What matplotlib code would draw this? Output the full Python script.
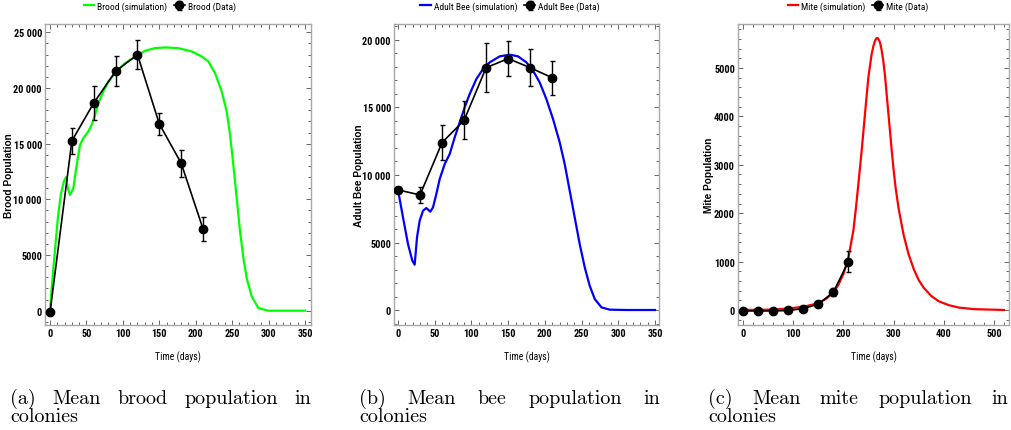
import matplotlib
matplotlib.use("Agg")
import matplotlib.pyplot as plt
from matplotlib import font_manager
from matplotlib.font_manager import FontProperties
from matplotlib.ticker import MultipleLocator, FuncFormatter

# ---------------- data ----------------
# (a) Brood
brood_sim_t = [0, 3, 7, 11, 15, 19, 22, 24.5, 27.5, 32, 36.6, 41.2, 45.8, 52.6, 57.2, 61.8,
               66.3, 73.2, 80.1, 89.2, 103, 119.9, 130.4, 144.1, 157.8, 176.1, 194.4,
               208.2, 217.3, 226.5, 235.6, 242.5, 247.1, 251.6, 256.2, 260.8, 265.4,
               269.9, 276.8, 285.9, 299.7, 350]
brood_sim_v = [0, 2600, 5600, 8500, 10500, 11600, 12000, 11000, 10400, 11000, 13100, 14900,
               15500, 16100, 16700, 17590, 18640, 19690, 20580, 21330, 22230, 22920, 23340,
               23580, 23640, 23580, 23280, 22830, 22380, 21330, 19690, 17890, 15800, 13100,
               10110, 7120, 4726, 2930, 1290, 240, 0, 0]
brood_t = [0, 30, 60, 90, 120, 150, 180, 210]
brood_v = [-150, 15250, 18650, 21500, 23000, 16770, 13250, 7350]
brood_err = [150, 1150, 1550, 1350, 1300, 950, 1200, 1100]

# (b) Adult bee
bee_sim_t = [0, 6.8, 13.6, 19.5, 22.7, 25.9, 29.5, 34.1, 38.6, 44.0, 47.7, 52.2, 56.8, 63.6,
             70.4, 77.2, 84.0, 90.8, 97.6, 106.7, 115.8, 124.9, 138.5, 152.1, 163.4, 174.8,
             183.9, 192.9, 202.0, 211.1, 220.2, 227.0, 233.8, 240.6, 247.4, 254.3, 261.0,
             267.9, 277.0, 288.3, 311.0, 350]
bee_sim_v = [8900, 6864, 4889, 3654, 3358, 5382, 6617, 7358, 7555, 7284, 7605, 8592, 9703,
             10814, 11555, 12789, 13900, 15011, 15999, 17110, 17851, 18345, 18789, 18913,
             18789, 18345, 17727, 16863, 15629, 14147, 12419, 10814, 8839, 6864, 4889, 3160,
             1802, 815, 198, 25, 0, 0]
bee_t = [0, 30, 60, 90, 120, 150, 180, 210]
bee_v = [8900, 8520, 12400, 14050, 17950, 18620, 17950, 17200]
bee_err = [200, 620, 1300, 1400, 1830, 1320, 1380, 1270]

# (c) Mite
mite_sim_t = [0, 54, 88, 121, 150, 167, 180, 190, 200, 210, 220, 225, 230, 236.4, 243, 249.7,
              256.3, 260, 263, 266, 268, 270, 273, 276, 279.5, 283, 286.2, 289.5, 292.8, 296,
              299.5, 304, 310, 320, 330, 340, 350, 360, 375, 390, 410, 430, 460, 520]
mite_sim_v = [0, 7, 28, 69, 138, 241, 365, 520, 740, 1080, 1650, 2110, 2620, 3290, 4050, 4800,
              5290, 5460, 5565, 5615, 5620, 5595, 5525, 5380, 5150, 4830, 4460, 4080, 3705,
              3330, 2950, 2530, 2100, 1550, 1150, 850, 620, 460, 290, 180, 100, 50, 18, 0]
mite_t = [0, 30, 60, 90, 120, 150, 180, 210]
mite_v = [-20, -20, -20, -10, 30, 120, 370, 1000]
mite_err = [30, 30, 30, 30, 40, 60, 80, 215]

# ---------------- fonts ----------------
entries = font_manager.fontManager.ttflist


def is_condensed(f):
    st = f.stretch
    if isinstance(st, str):
        return 'condensed' in st.lower() or 'narrow' in f.name.lower() or 'condensed' in f.name.lower()
    try:
        return int(st) < 500
    except Exception:
        return False


def wnum(f):
    w = f.weight
    if isinstance(w, str):
        return {'bold': 700, 'normal': 400, 'regular': 400}.get(w.lower(), 400)
    return int(w)


pref = ['Liberation Sans Narrow', 'Arial Narrow', 'Roboto Condensed', 'Open Sans Condensed',
        'DejaVu Sans', 'Noto Sans', 'Liberation Sans']
cond = [f for f in entries if is_condensed(f) and f.style == 'normal']


def pick(bold):
    for name in pref:
        c = [f for f in cond if f.name == name]
        if not c:
            continue
        c.sort(key=lambda f: abs(wnum(f) - (700 if bold else 400)))
        return c[0].fname
    if cond:
        c = sorted(cond, key=lambda f: abs(wnum(f) - (700 if bold else 400)))
        return c[0].fname
    return None


F_BOLD = pick(True)
F_REG = pick(False)


def fp(bold, size):
    fn = F_BOLD if bold else F_REG
    if fn:
        return FontProperties(fname=fn, size=size)
    return FontProperties(family='Liberation Sans', weight='bold' if bold else 'normal',
                          size=size - 1.0)


SERIF = 'cmr10' if any(f.name == 'cmr10' for f in entries) else 'DejaVu Serif'

W, H = 1011, 431
fig = plt.figure(figsize=(W / 100, H / 100), dpi=100)


def rect(l, r, t, b):
    return [l / W, 1 - b / H, (r - l) / W, (b - t) / H]


def fmt(v, pos):
    v = int(round(v))
    if abs(v) >= 10000:
        return f"{v:,}".replace(",", " ")
    return str(v)


def panel(r, sim_t, sim_v, d_t, d_v, d_e, color, xlim, ylim, xmaj, xmin, ymaj, ymin,
          ylabel, ylab_x, lab_sim, lab_dat, leg_x, yticks_max):
    ax = fig.add_axes(r)
    sim, = ax.plot(sim_t, sim_v, color=color, lw=1.6, zorder=2, label=lab_sim)
    eb = ax.errorbar(d_t, d_v, yerr=d_e, color='black', lw=1.2, marker='o', ms=6,
                     elinewidth=1.0, capsize=1.8, capthick=1.0, zorder=3, label=lab_dat)
    ax.set_xlim(*xlim)
    ax.set_ylim(*ylim)
    ax.xaxis.set_major_locator(MultipleLocator(xmaj))
    ax.xaxis.set_minor_locator(MultipleLocator(xmin))
    ax.set_yticks([v for v in range(0, yticks_max + 1, ymaj)])
    ax.yaxis.set_minor_locator(MultipleLocator(ymin))
    ax.yaxis.set_major_formatter(FuncFormatter(fmt))
    for s in ax.spines.values():
        s.set_color('#a8a8a8')
        s.set_linewidth(1.0)
    ax.tick_params(which='both', direction='in', top=True, right=True, color='#666666',
                   width=0.7)
    ax.tick_params(which='major', length=3.5, pad=2.2)
    ax.tick_params(which='minor', length=2)
    tfp = fp(True, 7.4)
    for lab in ax.get_xticklabels() + ax.get_yticklabels():
        lab.set_fontproperties(tfp)
    ax.set_xlabel('Time (days)', fontproperties=fp(False, 7), labelpad=9)
    cy = 1 - ((25 + 326) / 2) / H
    fig.text(ylab_x / W, cy, ylabel, rotation=90, ha='center', va='center',
             fontfamily='Liberation Sans', fontweight='bold', fontsize=7.3)
    ax.legend([sim, eb], [lab_sim, lab_dat], loc='center', bbox_to_anchor=(leg_x, 1.06),
              ncol=2, frameon=False, handlelength=1.1, handletextpad=0.35,
              columnspacing=0.7, prop=fp(False, 6.8))
    return ax


panel(rect(45, 311, 25, 326), brood_sim_t, brood_sim_v, brood_t, brood_v, brood_err,
      '#00ff00', (-6.9, 358.2), (-1283, 25745), 50, 10, 5000, 1000,
      'Brood Population', 9, 'Brood (simulation)', 'Brood (Data)', 0.432, 25000)
panel(rect(394, 659, 25, 326), bee_sim_t, bee_sim_v, bee_t, bee_v, bee_err,
      '#0000ff', (-5.45, 355.4), (-1111, 21185), 50, 10, 5000, 1000,
      'Adult Bee Population', 359, 'Adult Bee (simulation)', 'Adult Bee (Data)', 0.438, 20000)
panel(rect(738, 1009, 25, 326), mite_sim_t, mite_sim_v, mite_t, mite_v, mite_err,
      '#ff0000', (-10, 530), (-310, 5909), 100, 20, 1000, 200,
      'Mite Population', 709, 'Mite (simulation)', 'Mite (Data)', 0.443, 5000)

# ---------------- captions (justified) ----------------
renderer = fig.canvas.get_renderer()
CAP_SIZE = 14.5


def caption(words, rest, left, right, base1=404, base2=422):
    texts = [fig.text(0, 1 - base1 / H, w, fontfamily=SERIF, fontsize=CAP_SIZE,
                      va='baseline', ha='left') for w in words]
    widths = [t.get_window_extent(renderer).width for t in texts]
    gap = ((right - left) - sum(widths)) / (len(words) - 1)
    x = left
    for t, w in zip(texts, widths):
        t.set_x(x / W)
        x += w + gap
    fig.text(left / W, 1 - base2 / H, rest, fontfamily=SERIF, fontsize=CAP_SIZE,
             va='baseline', ha='left')


caption(['(a)', 'Mean', 'brood', 'population', 'in'], 'colonies', 10, 311)
caption(['(b)', 'Mean', 'bee', 'population', 'in'], 'colonies', 359, 660)
caption(['(c)', 'Mean', 'mite', 'population', 'in'], 'colonies', 708, 1008)

fig.savefig('out.png', dpi=100)
